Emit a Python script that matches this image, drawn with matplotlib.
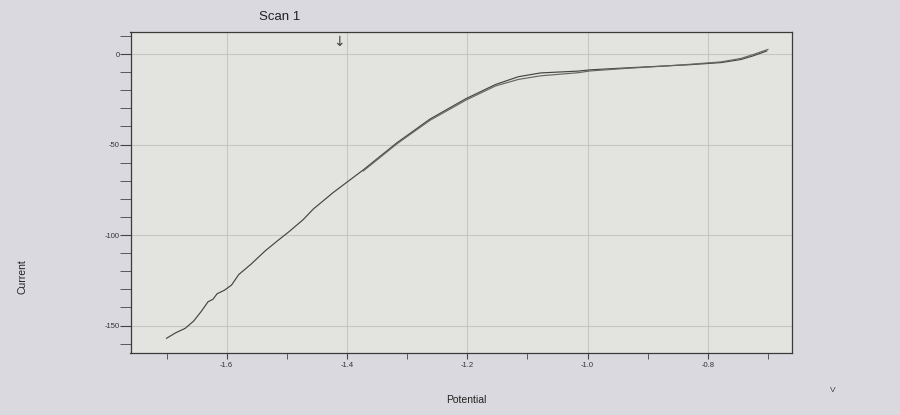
import matplotlib
matplotlib.use('Agg')
import matplotlib.pyplot as plt
from matplotlib.ticker import MultipleLocator, FormatStrFormatter

plt.rcParams['font.family'] = ['Liberation Sans', 'DejaVu Sans']
plt.rcParams['axes.unicode_minus'] = False

# forward scan (-1.7 V -> -0.7 V)
fwd_potential = [-1.700, -1.685, -1.669, -1.655, -1.642, -1.631, -1.623, -1.616, -1.604,
                 -1.592, -1.580, -1.559, -1.536, -1.515, -1.496, -1.473, -1.456, -1.423,
                 -1.373, -1.317, -1.262, -1.202, -1.153, -1.115, -1.078, -1.016, -0.995,
                 -0.940, -0.886, -0.832, -0.778, -0.745, -0.724, -0.702]
fwd_current = [-157.0, -154.0, -151.5, -147.5, -142.0, -136.8, -135.5, -132.4, -130.5,
               -127.6, -121.8, -115.9, -108.7, -103.0, -98.0, -91.5, -85.6, -76.5,
               -64.0, -49.0, -35.9, -24.6, -16.8, -12.5, -10.4, -9.4, -8.7,
               -7.7, -6.8, -5.9, -4.7, -3.0, -0.9, 1.7]

# reverse scan (-0.7 V -> back down), almost on top of the forward one
rev_potential = [-0.700, -0.724, -0.745, -0.778, -0.832, -0.886, -0.940, -0.995, -1.016,
                 -1.078, -1.115, -1.153, -1.202, -1.262, -1.317, -1.373]
rev_current = [2.6, -0.2, -2.4, -4.3, -5.7, -6.9, -8.0, -9.3, -10.3,
               -12.0, -14.0, -17.6, -25.4, -36.6, -49.6, -64.6]

xticks = [-1.6, -1.4, -1.2, -1.0, -0.8]
yticks = [0, -50, -100, -150]

fig = plt.figure(figsize=(9, 4.15), dpi=100)
fig.patch.set_facecolor('#d9d9df')
ax = fig.add_axes([0.145, 0.150, 0.735, 0.772])
ax.set_facecolor('#e3e4df')

ax.plot(fwd_potential, fwd_current, color='#444444', linewidth=0.85)
ax.plot(rev_potential, rev_current, color='#666666', linewidth=0.85)

ax.set_xlim(-1.76, -0.66)
ax.set_ylim(-165, 12)
ax.set_xticks(xticks)
ax.set_yticks(yticks)
ax.xaxis.set_minor_locator(MultipleLocator(0.1))
ax.yaxis.set_minor_locator(MultipleLocator(10))
ax.xaxis.set_major_formatter(FormatStrFormatter('%.1f'))
ax.tick_params(axis='both', which='both', direction='out', color='#444444',
               labelsize=5.5, labelcolor='#333333')
ax.tick_params(axis='y', which='both', length=8, pad=0)
ax.tick_params(axis='x', which='both', length=4, pad=3)
ax.grid(True, which='major', color='#c6c6c4', linewidth=0.8)
for s in ax.spines.values():
    s.set_color('#3a3a3a')
    s.set_linewidth(0.9)

# scan start marker
ax.text(-1.413, 3, '\u2193', fontsize=10, color='#444444', ha='center', va='bottom',
        family='DejaVu Sans')

fig.text(280 / 900, 1 - 17 / 415, 'Scan 1', fontsize=9.5, ha='center', va='center', color='#222222')
fig.text(466 / 900, 1 - 400 / 415, 'Potential', fontsize=7.5, ha='center', va='center', color='#222222')
fig.text(22 / 900, 1 - 277 / 415, 'Current', fontsize=7.5, rotation=90, ha='center', va='center',
         color='#222222')
fig.text(833 / 900, 1 - 390 / 415, 'V', fontsize=6, ha='center', va='center', color='#444444')

fig.savefig('out.png', dpi=100, facecolor=fig.get_facecolor())
